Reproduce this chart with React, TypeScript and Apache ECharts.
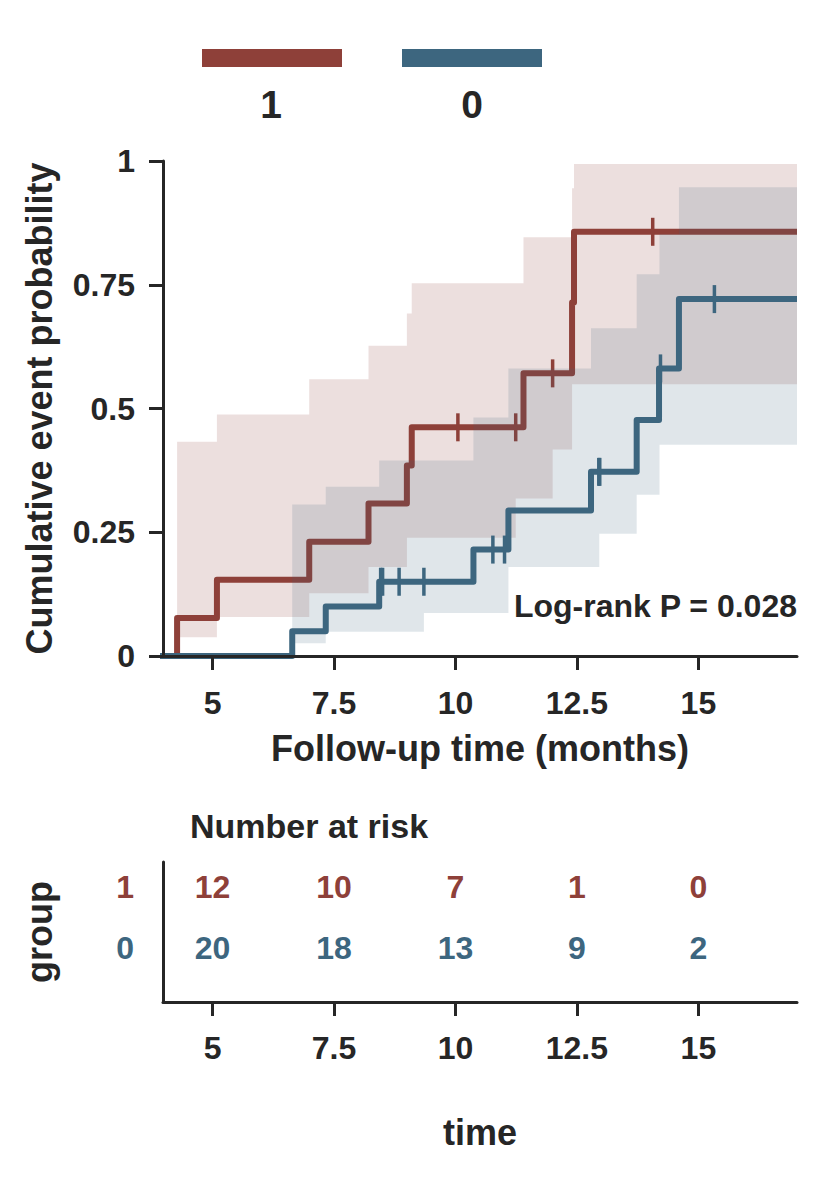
import React, { useEffect, useRef } from "react";
import * as echarts from "echarts";

// ---------- data ----------
const X_MIN = 3.98;
const X_MAX = 17.03;
const xTicks = [5, 7.5, 10, 12.5, 15];

// group 1 (red): cumulative event probability step curve
const g1Times = [0, 4.27, 5.09, 6.99, 8.21, 9.0, 9.1, 11.4, 12.4, 12.44, 17.03];
const g1Prob = [0, 0.077, 0.154, 0.231, 0.308, 0.385, 0.462, 0.571, 0.714, 0.857, 0.857];
const g1CensorTimes = [10.05, 11.24, 12.0, 14.06];
const g1CensorProb = [0.462, 0.462, 0.571, 0.857];
const g1BandTimes = [4.27, 5.09, 6.99, 8.21, 9.0, 9.1, 11.24, 11.4, 12.0, 12.4, 12.44, 17.03];
const g1BandLower = [0.038, 0.079, 0.127, 0.18, 0.239, 0.239, 0.318, 0.318, 0.417, 0.549, 0.549, 0.549];
const g1BandUpper = [0.433, 0.488, 0.559, 0.627, 0.692, 0.753, 0.753, 0.846, 0.846, 0.945, 0.994, 0.994];

// group 0 (blue)
const g0Times = [0, 6.64, 7.33, 8.43, 10.37, 11.09, 12.79, 13.73, 14.19, 14.6, 17.03];
const g0Prob = [0, 0.05, 0.1, 0.15, 0.215, 0.294, 0.372, 0.477, 0.581, 0.721, 0.721];
const g0CensorTimes = [8.46, 8.5, 8.84, 9.35, 10.77, 11.01, 12.95, 12.97, 14.22, 15.33];
const g0CensorProb = [0.15, 0.15, 0.15, 0.15, 0.215, 0.215, 0.372, 0.372, 0.581, 0.721];
const g0BandTimes = [6.64, 7.33, 8.43, 9.35, 10.37, 11.09, 12.79, 12.96, 13.73, 14.2, 14.6, 17.03];
const g0BandLower = [0.026, 0.049, 0.049, 0.087, 0.087, 0.18, 0.18, 0.247, 0.326, 0.427, 0.427, 0.427];
const g0BandUpper = [0.306, 0.342, 0.395, 0.395, 0.482, 0.581, 0.662, 0.662, 0.771, 0.852, 0.947, 0.947];

// number at risk table
const riskTimes = [5, 7.5, 10, 12.5, 15];
const risk1 = [12, 10, 7, 1, 0];
const risk0 = [20, 18, 13, 9, 2];

const groupLabels = ["1", "0"];
const pValueText = "Log-rank P = 0.028";

// ---------- style ----------
const FONT = "'Liberation Sans', Arial, Helvetica, sans-serif";
const TXT = "#262626";
const RED = "#8E4039";
const BLUE = "#3D667F";
const RED_BAND = "rgba(142,64,57,0.17)";
const BLUE_BAND = "rgba(61,102,127,0.16)";

function stepPolygon(times: number[], lo: number[], hi: number[]) {
  const pts: number[][] = [];
  for (let i = 0; i < times.length - 1; i++) {
    pts.push([times[i], hi[i]]);
    pts.push([times[i + 1], hi[i]]);
  }
  for (let i = times.length - 2; i >= 0; i--) {
    pts.push([times[i + 1], lo[i]]);
    pts.push([times[i], lo[i]]);
  }
  return pts;
}

function bandSeries(times: number[], lo: number[], hi: number[], fill: string, z: number) {
  const poly = stepPolygon(times, lo, hi);
  return {
    type: "custom",
    xAxisIndex: 0,
    yAxisIndex: 0,
    clip: true,
    silent: true,
    z,
    data: [[times[0], lo[0]]],
    encode: { x: 0, y: 1 },
    renderItem: (_params: any, api: any) => ({
      type: "polygon",
      shape: { points: poly.map((p) => api.coord(p)) },
      style: { fill, stroke: null },
    }),
  };
}

const zip = (a: number[], b: number[]) => a.map((v, i) => [v, b[i]]);

export default function App() {
  const ref = useRef<HTMLDivElement>(null);

  useEffect(() => {
    document.body.style.margin = "0";
    if (!ref.current) return;
    const chart = echarts.init(ref.current, undefined, { renderer: "svg" });

    const tickLabel = { fontFamily: FONT, fontWeight: "bold" as const, fontSize: 32, color: TXT };
    const nameStyle = { fontFamily: FONT, fontWeight: "bold" as const, fontSize: 36, color: TXT };
    const axisLine = { show: true, onZero: false, lineStyle: { color: TXT, width: 3 } };
    const axisTick = { show: true, length: 14, lineStyle: { color: TXT, width: 3 } };

    const riskSeries = (row: number, values: number[], color: string) => ({
      type: "scatter",
      xAxisIndex: 1,
      yAxisIndex: 1,
      data: riskTimes.map((t, i) => [t, row, values[i]]),
      symbolSize: 2,
      itemStyle: { color: "rgba(0,0,0,0)", opacity: 1 },
      silent: true,
      label: {
        show: true,
        position: "inside",
        formatter: (p: any) => String(p.value[2]),
        fontFamily: FONT,
        fontWeight: "bold",
        fontSize: 32,
        color,
        opacity: 1,
      },
    });

    const option: any = {
      animation: false,
      backgroundColor: "#ffffff",
      grid: [
        { left: 163, top: 161, width: 634, height: 495 },
        { left: 163, top: 862, width: 634, height: 140 },
      ],
      xAxis: [
        {
          type: "value",
          gridIndex: 0,
          min: X_MIN,
          max: X_MAX,
          z: 10,
          axisLine,
          axisTick: { ...axisTick, customValues: xTicks },
          axisLabel: { ...tickLabel, margin: 31, customValues: xTicks },
          splitLine: { show: false },
          name: "Follow-up time (months)",
          nameLocation: "middle",
          nameGap: 74,
          nameTextStyle: nameStyle,
        },
        {
          type: "value",
          gridIndex: 1,
          min: X_MIN,
          max: X_MAX,
          z: 10,
          axisLine,
          axisTick: { ...axisTick, customValues: xTicks },
          axisLabel: { ...tickLabel, margin: 30, customValues: xTicks },
          splitLine: { show: false },
          name: "time",
          nameLocation: "middle",
          nameGap: 112,
          nameTextStyle: nameStyle,
        },
      ],
      yAxis: [
        {
          type: "value",
          gridIndex: 0,
          min: 0,
          max: 1,
          interval: 0.25,
          z: 10,
          axisLine,
          axisTick,
          axisLabel: { ...tickLabel, margin: 28 },
          splitLine: { show: false },
          name: "Cumulative event probability",
          nameLocation: "middle",
          nameGap: 106,
          nameTextStyle: nameStyle,
        },
        {
          type: "value",
          gridIndex: 1,
          min: -0.887,
          max: 1.412,
          z: 10,
          axisLine,
          axisTick: { show: false },
          axisLabel: {
            margin: 29,
            customValues: [0, 1],
            formatter: (v: number) =>
              v === 1 ? "{a|" + groupLabels[0] + "}" : v === 0 ? "{b|" + groupLabels[1] + "}" : "",
            rich: {
              a: { ...tickLabel, color: RED },
              b: { ...tickLabel, color: BLUE },
            },
          },
          splitLine: { show: false },
          name: "group",
          nameLocation: "middle",
          nameGap: 106,
          nameTextStyle: nameStyle,
        },
      ],
      series: [
        bandSeries(g1BandTimes, g1BandLower, g1BandUpper, RED_BAND, 2),
        {
          type: "line",
          name: "1",
          xAxisIndex: 0,
          yAxisIndex: 0,
          step: "end",
          data: zip(g1Times, g1Prob),
          symbol: "none",
          z: 3,
          lineStyle: { color: RED, width: 6, join: "round" },
        },
        {
          type: "scatter",
          xAxisIndex: 0,
          yAxisIndex: 0,
          data: zip(g1CensorTimes, g1CensorProb),
          symbol: "rect",
          symbolSize: [3.5, 28],
          z: 4,
          itemStyle: { color: RED, opacity: 1 },
        },
        bandSeries(g0BandTimes, g0BandLower, g0BandUpper, BLUE_BAND, 5),
        {
          type: "line",
          name: "0",
          xAxisIndex: 0,
          yAxisIndex: 0,
          step: "end",
          data: zip(g0Times, g0Prob),
          symbol: "none",
          z: 6,
          lineStyle: { color: BLUE, width: 6, join: "round" },
        },
        {
          type: "scatter",
          xAxisIndex: 0,
          yAxisIndex: 0,
          data: zip(g0CensorTimes, g0CensorProb),
          symbol: "rect",
          symbolSize: [3.5, 28],
          z: 7,
          itemStyle: { color: BLUE, opacity: 1 },
        },
        riskSeries(1, risk1, RED),
        riskSeries(0, risk0, BLUE),
      ],
      graphic: [
        { type: "rect", shape: { x: 202, y: 49, width: 140, height: 18 }, style: { fill: RED } },
        { type: "rect", shape: { x: 402, y: 49, width: 140, height: 18 }, style: { fill: BLUE } },
        {
          type: "text",
          x: 271,
          y: 104,
          style: { text: groupLabels[0], fontFamily: FONT, fontWeight: "bold", fontSize: 39, fill: TXT, align: "center", verticalAlign: "middle" },
        },
        {
          type: "text",
          x: 472,
          y: 104,
          style: { text: groupLabels[1], fontFamily: FONT, fontWeight: "bold", fontSize: 39, fill: TXT, align: "center", verticalAlign: "middle" },
        },
        {
          type: "text",
          x: 797,
          y: 606,
          z: 20,
          style: { text: pValueText, fontFamily: FONT, fontWeight: "bold", fontSize: 32, fill: TXT, align: "right", verticalAlign: "middle" },
        },
        {
          type: "text",
          x: 190,
          y: 826,
          style: { text: "Number at risk", fontFamily: FONT, fontWeight: "bold", fontSize: 34, fill: TXT, align: "left", verticalAlign: "middle" },
        },
      ],
    };

    chart.setOption(option);
    return () => chart.dispose();
  }, []);

  return <div ref={ref} style={{ width: 834, height: 1182 }} />;
}
